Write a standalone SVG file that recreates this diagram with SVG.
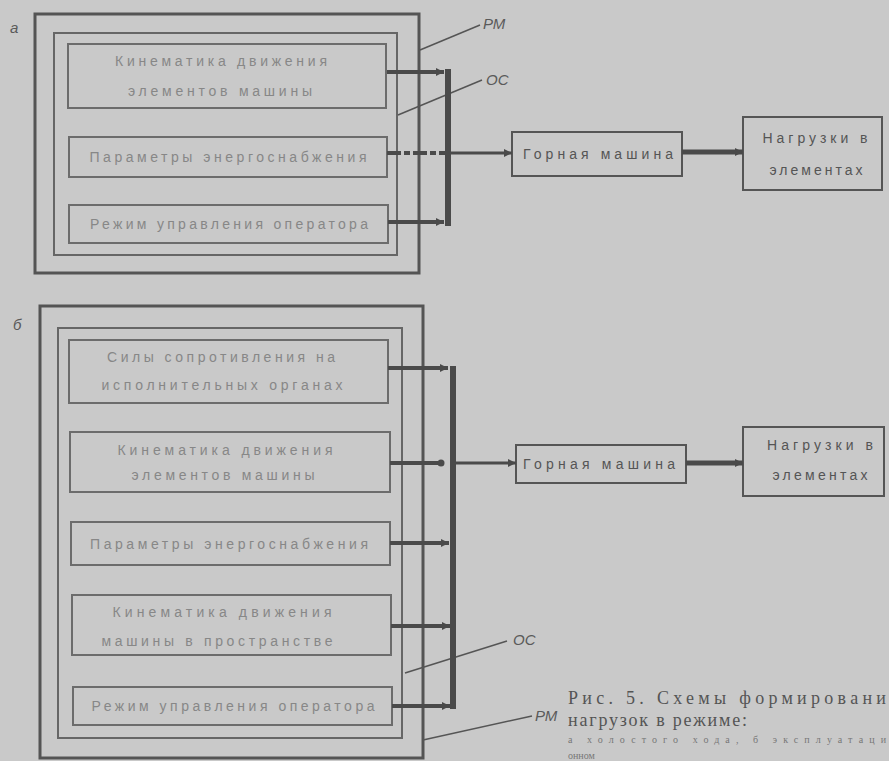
<svg xmlns="http://www.w3.org/2000/svg" width="889" height="761" viewBox="0 0 889 761">
<defs>
<marker id="ah" markerUnits="userSpaceOnUse" markerWidth="9" markerHeight="9" refX="8" refY="4.5" orient="auto"><path d="M0,0.5 L8,4.5 L0,8.5 z" fill="#4a4a4a"/></marker>
<marker id="dot" markerUnits="userSpaceOnUse" markerWidth="8" markerHeight="8" refX="4" refY="4" orient="auto"><circle cx="4" cy="4" r="3.5" fill="#4a4a4a"/></marker>
</defs>
<style>
.outer{fill:none;stroke:#545454;stroke-width:3}
.mid{fill:none;stroke:#666;stroke-width:2}
.inner{fill:none;stroke:#6c6c6c;stroke-width:2}
.box{fill:none;stroke:#555;stroke-width:2}
.bus{stroke:#4a4a4a;stroke-width:6;fill:none}
.arr{stroke:#4a4a4a;stroke-width:4;fill:none;marker-end:url(#ah)}
.arrd{stroke:#4a4a4a;stroke-width:4;fill:none;stroke-dasharray:14 3 6 3}
.thin{stroke:#4a4a4a;stroke-width:3;fill:none;marker-end:url(#ah)}
.lead{stroke:#555;stroke-width:1.5;fill:none}
.ft{font-family:"Liberation Sans","DejaVu Sans",sans-serif;font-size:14px;fill:#878787;text-anchor:middle}
.dt{font-family:"Liberation Sans","DejaVu Sans",sans-serif;font-size:14px;fill:#555;text-anchor:middle}
.lbl{font-family:"Liberation Sans","DejaVu Sans",sans-serif;font-size:15px;font-style:italic;fill:#5a5a5a}
.cap{font-family:"Liberation Serif","DejaVu Serif",serif;font-size:18px;fill:#555}
.cs{font-family:"Liberation Serif","DejaVu Serif",serif;font-size:10px;fill:#777}
</style>
<rect x="0" y="0" width="889" height="761" fill="#c9c9c9"/>

<!-- Diagram a -->
<g id="label-a"><text class="lbl" x="10" y="33">а</text></g>
<g id="a-RM"><rect class="outer" x="35" y="14" width="384" height="259"/></g>
<g id="a-OC"><rect class="mid" x="54" y="33" width="343" height="222"/></g>
<g id="a-n1"><rect class="inner" x="68" y="44" width="318" height="64"/>
<text class="ft" x="221" y="66" textLength="212">Кинематика движения</text>
<text class="ft" x="220" y="96" textLength="184">элементов машины</text></g>
<g id="a-n2"><rect class="inner" x="69" y="137" width="318" height="40"/>
<text class="ft" x="228" y="162" textLength="277">Параметры энергоснабжения</text></g>
<g id="a-n3"><rect class="inner" x="69" y="205" width="319" height="38"/>
<text class="ft" x="229" y="229" textLength="278">Режим управления оператора</text></g>
<g id="a-gm"><rect class="box" x="512" y="132" width="170" height="44"/>
<text class="dt" x="598" y="159" textLength="150">Горная машина</text></g>
<g id="a-load"><rect class="box" x="743" y="117" width="139" height="73"/>
<text class="dt" x="815" y="143" textLength="105">Нагрузки в</text>
<text class="dt" x="816" y="175" textLength="93">элементах</text></g>
<g id="a-labels">
<path class="lead" d="M420,50 L480,25"/><text class="lbl" x="483" y="29">РМ</text>
<path class="lead" d="M398,115 L482,80"/><text class="lbl" x="486" y="85">ОС</text>
</g>

<!-- Diagram b -->
<g id="label-b"><text class="lbl" x="13" y="330">б</text></g>
<g id="b-RM"><rect class="outer" x="40" y="306" width="383" height="452"/></g>
<g id="b-OC"><rect class="mid" x="58" y="328" width="344" height="410"/></g>
<g id="b-n1"><rect class="inner" x="69" y="340" width="319" height="63"/>
<text class="ft" x="221" y="362" textLength="228">Силы сопротивления на</text>
<text class="ft" x="222" y="390" textLength="241">исполнительных органах</text></g>
<g id="b-n2"><rect class="inner" x="70" y="432" width="320" height="60"/>
<text class="ft" x="225" y="455" textLength="215">Кинематика движения</text>
<text class="ft" x="223" y="480" textLength="183">элементов машины</text></g>
<g id="b-n3"><rect class="inner" x="71" y="522" width="319" height="43"/>
<text class="ft" x="229" y="549" textLength="278">Параметры энергоснабжения</text></g>
<g id="b-n4"><rect class="inner" x="72" y="595" width="319" height="60"/>
<text class="ft" x="222" y="617" textLength="219">Кинематика движения</text>
<text class="ft" x="217" y="646" textLength="231">машины в пространстве</text></g>
<g id="b-n5"><rect class="inner" x="73" y="687" width="319" height="38"/>
<text class="ft" x="233" y="711" textLength="283">Режим управления оператора</text></g>
<g id="b-gm"><rect class="box" x="516" y="445" width="170" height="38"/>
<text class="dt" x="599" y="469" textLength="152">Горная машина</text></g>
<g id="b-load"><rect class="box" x="743" y="427" width="141" height="69"/>
<text class="dt" x="820" y="450" textLength="106">Нагрузки в</text>
<text class="dt" x="820" y="480" textLength="95">элементах</text></g>
<g id="b-labels">
<path class="lead" d="M405,673 L507,641"/><text class="lbl" x="513" y="645">ОС</text>
<path class="lead" d="M423,740 L532,716"/><text class="lbl" x="535" y="721">РМ</text>
</g>

<g id="connectors">
<path class="bus" d="M448,69 V226"/>
<path class="arr" d="M387,72 H444"/>
<path class="arrd" d="M387,153 H446"/>
<path class="thin" d="M451,153 H512"/>
<path class="arr" d="M388,222 H444"/>
<path class="arr" d="M682,152 H743" style="stroke-width:5"/>

<path class="bus" d="M453,366 V709"/>
<path class="arr" d="M388,368 H448"/>
<path class="arr" d="M390,463 H441" style="marker-end:url(#dot)"/>
<path class="thin" d="M456,463 H516"/>
<path class="arr" d="M390,543 H449"/>
<path class="arr" d="M391,626 H450"/>
<path class="arr" d="M392,706 H450"/>
<path class="arr" d="M686,463 H743" style="stroke-width:5"/>
</g>

<g id="caption">
<text class="cap" x="568" y="704" textLength="318">Рис. 5. Схемы формировани</text>
<text class="cap" x="568" y="726" textLength="179">нагрузок в режиме:</text>
<text class="cs" x="568" y="743" textLength="318">а  холостого хода, б  эксплуатаци</text>
<text class="cs" x="568" y="759">онном</text>
</g>
</svg>
